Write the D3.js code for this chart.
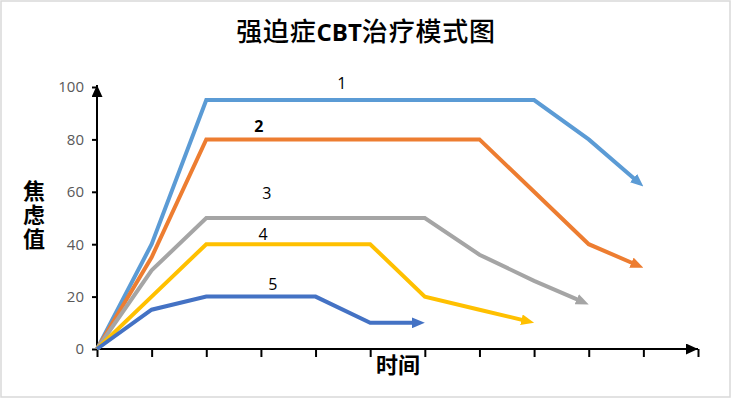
<!DOCTYPE html>
<html><head><meta charset="utf-8">
<script src="https://cdn.jsdelivr.net/npm/d3@7"></script>
<style>
html,body{margin:0;padding:0;background:#fff;}
svg{display:block;}
</style></head>
<body>
<svg id="chart" width="732" height="420"></svg>
<script>
// ---- data ----
const timeSteps = [0,1,2,3,4,5,6,7,8,9,10,11];
const yTicks = [0,20,40,60,80,100];
const series1 = [0,40,95,95,95,95,95,95,95,80,62];
const series2 = [0,35,80,80,80,80,80,80,60,40,31];
const series3 = [0,30,50,50,50,50,50,36,26,17];
const series4 = [0,20,40,40,40,40,20,15,10];
const series5 = [0,15,20,20,20,10,10];
const seriesNames = ["1","2","3","4","5"];
const seriesColors = ["#5B9BD5","#ED7D31","#A5A5A5","#FFC000","#4472C4"];
// label anchors (x step, y value)
const labelX = [4.48, 2.96, 3.11, 3.04, 3.22];
const labelY = [99.2, 82.8, 57.3, 41.6, 22.5];
const labelBold = [false, true, false, false, false];
const titleParts = [["强迫症", false], ["CBT", true], ["治疗模式图", false]];
const yTitle = "焦虑值";
const xTitle = "时间";

const allSeries = [series1, series2, series3, series4, series5];

const svg = d3.select("#chart");
const x = d3.scaleLinear().domain([0, 11]).range([97, 698]);
const y = d3.scaleLinear().domain([0, 100]).range([349, 87]);

// background + border
svg.append("rect").attr("x", 0).attr("y", 0).attr("width", 732).attr("height", 420).attr("fill", "#fff");
svg.append("rect").attr("x", 1).attr("y", 1).attr("width", 729).attr("height", 396)
  .attr("fill", "#fff").attr("stroke", "#d9d9d9").attr("stroke-width", 1.5);

const defs = svg.append("defs");
function arrow(id, color, w, h) {
  defs.append("marker").attr("id", id)
    .attr("viewBox", `0 0 ${w} ${h}`)
    .attr("markerWidth", w).attr("markerHeight", h)
    .attr("markerUnits", "userSpaceOnUse")
    .attr("refX", w).attr("refY", h / 2)
    .attr("orient", "auto")
    .append("path").attr("d", `M0,0L${w},${h/2}L0,${h}Z`).attr("fill", color);
}
arrow("axisArrow", "#000", 12, 11);
seriesColors.forEach((c, i) => arrow("sa" + i, c, 13, 11));

// title
const title = svg.append("text").attr("x", 366).attr("y", 41).attr("text-anchor", "middle")
  .attr("font-family", "'Noto Sans CJK SC', sans-serif").attr("font-size", 26).attr("fill", "#000");
titleParts.forEach(([t, b]) => {
  title.append("tspan").text(t).attr("font-weight", b ? 700 : 500)
    .attr("font-size", b ? 24 : 26)
    .attr("letter-spacing", b ? 0 : 0.8)
    .attr("font-family", b ? "'Open Sans', 'Noto Sans', sans-serif" : "'Noto Sans CJK SC', sans-serif");
});

// y axis
const yAxis = svg.append("g").attr("transform", `translate(${x(0)},0)`)
  .call(d3.axisLeft(y).tickValues(yTicks).tickSize(5).tickSizeOuter(0).tickPadding(8));
yAxis.select(".domain").remove();
yAxis.selectAll(".tick line").attr("stroke", "#000").attr("stroke-width", 2);
yAxis.selectAll(".tick text").attr("fill", "#595959").attr("font-size", 15)
  .attr("font-family", "'Open Sans', 'Noto Sans', sans-serif");
svg.append("line").attr("x1", x(0)).attr("x2", x(0)).attr("y1", y(0) + 1).attr("y2", y(100) - 2)
  .attr("stroke", "#000").attr("stroke-width", 2).attr("marker-end", "url(#axisArrow)");

// x axis
const xAxis = svg.append("g").attr("transform", `translate(0,${y(0)})`)
  .call(d3.axisBottom(x).tickValues(timeSteps).tickSize(8).tickSizeOuter(0).tickFormat(""));
xAxis.select(".domain").remove();
xAxis.selectAll(".tick line").attr("stroke", "#000").attr("stroke-width", 2);
svg.append("line").attr("x1", x(0) - 1).attr("x2", x(11)).attr("y1", y(0)).attr("y2", y(0))
  .attr("stroke", "#000").attr("stroke-width", 2).attr("marker-end", "url(#axisArrow)");

// axis titles
svg.append("text").attr("x", 34).attr("y", 216).attr("text-anchor", "middle")
  .style("writing-mode", "vertical-rl").attr("letter-spacing", 2)
  .attr("font-family", "'Noto Sans CJK SC', sans-serif").attr("font-size", 22).attr("font-weight", 700)
  .attr("fill", "#000").text(yTitle);
svg.append("text").attr("x", 398).attr("y", 373).attr("text-anchor", "middle")
  .attr("font-family", "'Noto Sans CJK SC', sans-serif").attr("font-size", 22).attr("font-weight", 700)
  .attr("fill", "#000").text(xTitle);

// series lines
const line = d3.line().x((d, i) => x(timeSteps[i])).y(d => y(d));
allSeries.forEach((s, i) => {
  const p = svg.append("path").datum(s).attr("d", line)
    .attr("fill", "none").attr("stroke", seriesColors[i]).attr("stroke-width", 4)
    .attr("stroke-linejoin", "miter").attr("stroke-linecap", "butt");
  const L = p.node().getTotalLength();
  p.attr("stroke-dasharray", `${L - 7} ${L + 20}`);
  const n = s.length;
  svg.append("line")
    .attr("x1", x(timeSteps[n - 2])).attr("y1", y(s[n - 2]))
    .attr("x2", x(timeSteps[n - 1])).attr("y2", y(s[n - 1]))
    .attr("stroke", "none").attr("marker-end", `url(#sa${i})`);
});

// series labels
seriesNames.forEach((name, i) => {
  svg.append("text").attr("x", x(labelX[i])).attr("y", y(labelY[i])).attr("text-anchor", "middle")
    .attr("font-family", "'Open Sans', 'Noto Sans', sans-serif").attr("font-size", 16)
    .attr("font-weight", labelBold[i] ? 700 : 400).attr("fill", "#000").text(name);
});
</script>
</body></html>
